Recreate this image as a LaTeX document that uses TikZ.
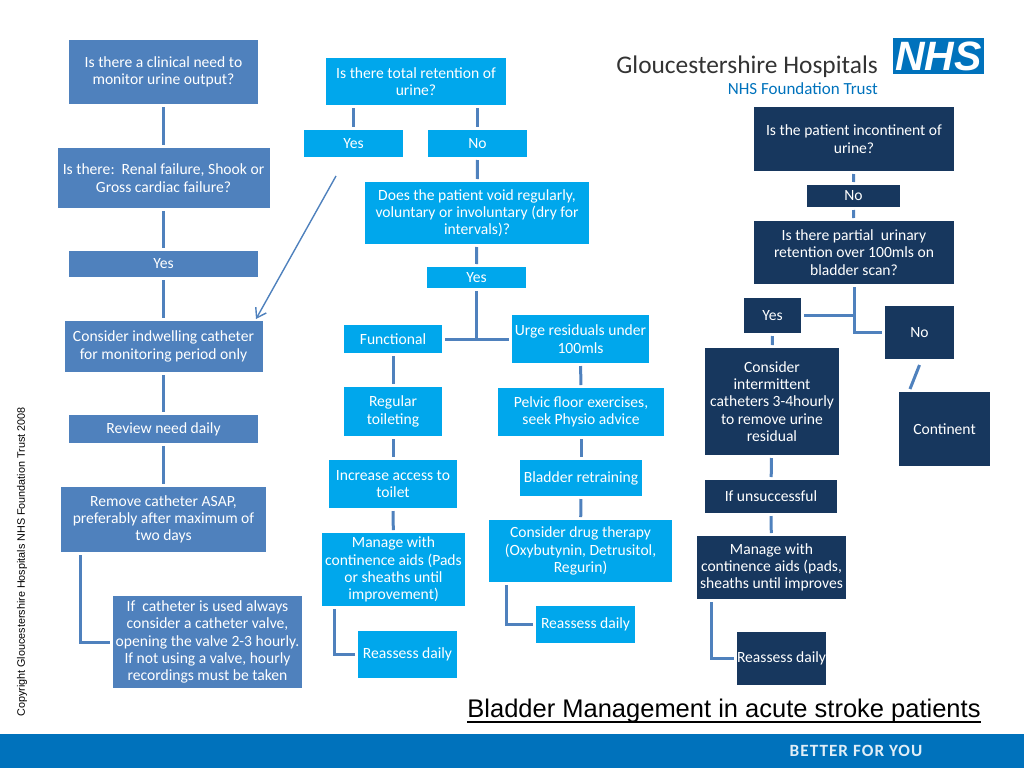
\documentclass[tikz,border=0pt]{standalone}
\usepackage{fontspec}
\setmainfont{Carlito}
\newfontfamily\arialfont{Liberation Sans}
\newfontfamily\spacedfont[LetterSpace=6]{Carlito}
\usetikzlibrary{arrows.meta}
\definecolor{stepblue}{HTML}{4F81BD}
\definecolor{brightblue}{HTML}{00A7EC}
\definecolor{navyblue}{HTML}{17375E}
\definecolor{nhsblue}{HTML}{0072BC}
\tikzset{
	sz/.style 2 args={minimum width=#1pt,minimum height=#2pt},
	box/.style={inner sep=0pt,outer sep=3pt,align=center,text=white,font=\fontsize{15.6}{17.3}\selectfont},
	lbox/.style={box,fill=stepblue},
	mbox/.style={box,fill=brightblue},
	rbox/.style={box,fill=navyblue},
	link/.style={draw=stepblue,line width=3pt}
}
\begin{document}
\begin{tikzpicture}[x=1pt,y=-1pt]
	  \useasboundingbox (0,0) rectangle (1024,768);
	  % footer and heading
	  \node (band) [fill=nhsblue,inner sep=0pt,sz={1024}{34}] at (512,751) {};
	  \node (slogan) [text=white!88!nhsblue,font=\fontsize{17.2}{18}\bfseries\spacedfont] at (856,751) {BETTER FOR YOU};
	  \node (title) [anchor=base,inner sep=0pt,outer sep=0pt,font=\fontsize{25.5}{30}\arialfont] at (724,717.5) {Bladder Management in acute stroke patients};
	  \draw [line width=1.7pt] ([yshift=-4.3pt]title.base west) -- ([yshift=-4.3pt]title.base east);
	  \node (copy) [rotate=90,font=\fontsize{10.8}{12}\arialfont] at (22,562) {Copyright Gloucestershire Hospitals NHS Foundation Trust 2008};
	  % logo
	  \node (trust) [anchor=base east,inner sep=0pt,text=black!80,font=\fontsize{25.4}{28}\selectfont] at (878,73) {Gloucestershire Hospitals};
	  \node (found) [anchor=base east,inner sep=0pt,text=nhsblue,font=\fontsize{17}{20}\selectfont] at (878,94) {NHS Foundation Trust};
	  \node (nhs) [fill=nhsblue,inner sep=0pt,sz={91}{36},text=white,font=\fontsize{41}{41}\bfseries\itshape\arialfont] at (938.5,56) {NHS};
	  % left column
	  \node (need) [lbox,sz={189}{64}] at (163.5,72) {Is there a clinical need to\\monitor urine output?};
	  \node (renal) [lbox,sz={212}{60}] at (163.5,178) {Is there:\ \ Renal failure, Shook or\\Gross cardiac failure?};
	  \node (yesl) [lbox,sz={189}{26}] at (163.5,264) {Yes};
	  \node (indw) [lbox,sz={198}{51}] at (163.5,346.5) {Consider indwelling catheter\\for monitoring period only};
	  \node (review) [lbox,sz={189}{28}] at (163.5,429) {Review need daily};
	  \node (remove) [lbox,sz={205}{65}] at (163.5,519.5) {Remove catheter ASAP,\\preferably after maximum of\\two days};
	  \node (valve) [lbox,sz={189}{92}] at (207.5,642) {If\ \ catheter is used always\\consider a catheter valve,\\opening the valve 2-3 hourly.\\If not using a valve, hourly\\recordings must be taken};
	  % middle columns
	  \node (total) [mbox,sz={180}{47}] at (416,81.5) {Is there total retention of\\urine?};
	  \node (yesm) [mbox,sz={99}{27}] at (353.5,143.5) {Yes};
	  \node (nom) [mbox,sz={99}{27}] at (477.5,143.5) {No};
	  \node (void) [mbox,sz={224}{62}] at (477,213) {Does the patient void regularly,\\voluntary or involuntary (dry for\\intervals)?};
	  \node (yesv) [mbox,sz={99}{21}] at (476.5,277.5) {Yes};
	  \node (func) [mbox,sz={98}{28}] at (393,339) {Functional};
	  \node (urge) [mbox,sz={137}{48}] at (580.5,339) {Urge residuals under\\100mls};
	  \node (toilet) [mbox,sz={98}{49}] at (393,411.5) {Regular\\toileting};
	  \node (access) [mbox,sz={128}{48}] at (393,484) {Increase access to\\toilet};
	  \node (aids) [mbox,sz={143}{73}] at (393.5,569.5) {Manage with\\continence aids (Pads\\or sheaths until\\improvement)};
	  \node (rem) [mbox,sz={99}{47}] at (407.5,654.5) {Reassess daily};
	  \node (pelvic) [mbox,sz={166}{48}] at (581,412) {Pelvic floor exercises,\\seek Physio advice};
	  \node (retrain) [mbox,sz={122}{36}] at (581,478) {Bladder retraining};
	  \node (drug) [mbox,sz={183}{62}] at (580.5,551) {Consider drug therapy\\(Oxybutynin, Detrusitol,\\Regurin)};
	  \node (reu) [mbox,sz={99}{37}] at (585.5,624.5) {Reassess daily};
	  % right columns
	  \node (incont) [rbox,sz={200}{64}] at (854,139) {Is the patient incontinent of\\urine?};
	  \node (nor) [rbox,sz={93}{22}] at (853.5,196) {No};
	  \node (part) [rbox,sz={200}{63}] at (854,252.5) {Is there partial\ \ urinary\\retention over 100mls on\\bladder scan?};
	  \node (yesr) [rbox,sz={57}{35}] at (772.5,315.5) {Yes};
	  \node (nop) [rbox,sz={69}{53}] at (919.5,332.5) {No};
	  \node (inter) [rbox,sz={134}{107}] at (772,401.5) {Consider\\intermittent\\catheters 3-4hourly\\to remove urine\\residual};
	  \node (cont) [rbox,sz={91}{74}] at (944.5,429) {Continent};
	  \node (unsucc) [rbox,sz={132}{33}] at (771,496.5) {If unsuccessful};
	  \node (pads) [rbox,sz={149}{63}] at (771.5,567.5) {Manage with\\continence aids (pads,\\sheaths until improves};
	  \node (red) [rbox,sz={89}{53}] at (781.5,658.5) {Reassess daily};
	  \coordinate (yesfree) at (336,176);
	  % connectors
	  \draw [link] (need) -- (renal);
	  \draw [link] (renal) -- (yesl);
	  \draw [link] (yesl) -- (indw);
	  \draw [link] (indw) -- (review);
	  \draw [link] (review) -- (remove);
	  \draw [link] ([xshift=-83.5pt]remove.south) |- (valve.west);
	  \draw [link] (yesm.north |- total.south) -- (yesm.north);
	  \draw [link] (nom.north |- total.south) -- (nom.north);
	  \draw [link] (nom) -- (void);
	  \draw [link] (void) -- (yesv);
	  \draw [link] (func.east) -- (urge.west);
	  \draw [link] (yesv.south) -- (yesv.south |- func.east);
	  \draw [link] (func) -- (toilet);
	  \draw [link] (toilet) -- (access);
	  \draw [link] (access) -- (aids);
	  \draw [link] ([xshift=-59.5pt]aids.south) |- (rem.west);
	  \draw [link] (urge) -- (pelvic);
	  \draw [link] (pelvic) -- (retrain);
	  \draw [link] (retrain) -- (drug);
	  \draw [link] ([xshift=-74.5pt]drug.south) |- (reu.west);
	  \draw [draw=stepblue,line width=1.4pt,-{Straight Barb[length=9pt,width=12pt]}] (yesfree) -- ([xshift=-9.5pt,yshift=-1pt]indw.north east);
	  \draw [link] (incont) -- (nor);
	  \draw [link] (nor) -- (part);
	  \draw [link] (part.south) |- (nop.west);
	  \draw [link] (yesr.east) -- (yesr.east -| part.south);
	  \draw [link] (yesr) -- (inter);
	  \draw [link] ([yshift=-3pt]nop.south) -- (cont.north -| 910,0);
	  \draw [link] (inter) -- (unsucc);
	  \draw [link] (unsucc) -- (pads);
	  \draw [link] ([xshift=-60.5pt]pads.south) |- (red.west);
	\end{tikzpicture}
\end{document}
